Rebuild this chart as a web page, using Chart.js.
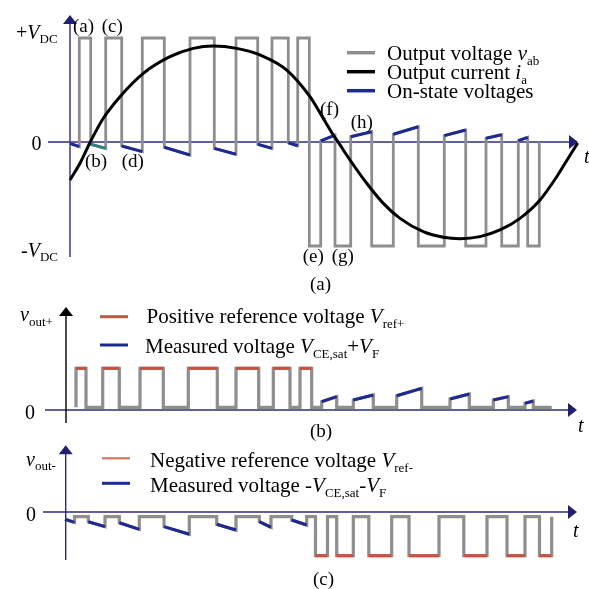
<!DOCTYPE html>
<html>
<head>
<meta charset="utf-8">
<script src="https://cdn.jsdelivr.net/npm/chart.js@4.4.0/dist/chart.umd.min.js"></script>
<style>
html, body { margin: 0; padding: 0; background: #fff; }
#wrap { width: 589px; height: 589px; }
</style>
</head>
<body>
<div id="wrap"><canvas id="pwmChart" width="589" height="589"></canvas></div>
<script>
// Data -- time in arbitrary units (0 = vertical axis of panel a)

// (a) output voltage, in units of V_DC
var highA = [[9.3,20.7],[35.7,51.7],[72.3,94.3],[120,144.3],[166,187.7],[202,218.3],[227.7,239.3]];
var lowA = [[239.3,250.7],[265,280.7],[301.7,323.3],[348.3,374.3],[395.7,416],[431.7,448.3],[457.7,469.3]];
// on-state segments: [t0, v0, t1, v1]
var onStateA = [
  [0,-0.013,9.3,-0.045], [20.7,-0.022,35.7,-0.061], [51.7,-0.038,72.3,-0.093],
  [94.3,-0.051,120,-0.125], [144.3,-0.061,166,-0.118], [187.7,-0.022,202,-0.061],
  [218.3,-0.007,227.7,-0.036],
  [250.7,0.01,265,0.067], [280.7,0.051,301.7,0.099], [323.3,0.074,348.3,0.147],
  [374.3,0.061,395.7,0.115], [416,0.036,431.7,0.07], [448.3,0.013,457.7,0.045]
];
var tealIndex = 1;
// (a) output current
var currentT = [0,10,20,33.3,50,73.3,100,123.3,143.3,166.7,190,216.7,240,250,263.3,266.7,280,296.7,313.3,330,353.3,373.3,390,410,430,450,470,486.7,496,507.7];
var currentA = [-0.365,-0.205,-0.005,0.228,0.436,0.66,0.82,0.9,0.923,0.9,0.837,0.692,0.436,0.28,0.067,0.02,-0.173,-0.397,-0.59,-0.734,-0.862,-0.916,-0.93,-0.91,-0.846,-0.734,-0.558,-0.334,-0.19,-0.01];

// (b) v_out+, in units of V_ref+
var highB = [[6,16],[32.7,49.3],[70,93.3],[118.3,147.3],[166,188.7],[203.3,220],[230,241.7]];
var onStateB = [[251.7,0.2,266.7,0.32],[283.3,0.24,303.3,0.36],[326.7,0.343,351.7,0.52],[380,0.264,399.3,0.384],[423.3,0.24,438.3,0.32],[455,0.16,463.3,0.216]];
var baseB = 0.065;
var spanB = [6, 481.7];

// (c) v_out-, in units of |V_ref-|
var lowC = [[245.5,257.5],[266.7,283.3],[298.8,321.7],[339,369],[393.8,417],[437,455],[469.5,481.7]];
var onStateC = [[-5,-0.167,4.5,-0.236],[18.3,-0.222,35,-0.336],[49.3,-0.245,69.3,-0.396],[94,-0.336,119.3,-0.51],[146.7,-0.281,166,-0.412],[189.3,-0.222,201,-0.35],[221.7,-0.183,236.7,-0.297]];
var baseC = -0.108;
var spanC = [-5, 481.7];

// tick labels (rich text parts: [text, 'n' normal | 'i' italic | 's' subscript])
var ticksA = [[['+','n'],['V','i'],['DC','s']], [['0','n']], [['-','n'],['V','i'],['DC','s']]];
var ticksB = [[['0','n']]];
var ticksC = [[['0','n']]];

var legendA = [
  [['Output voltage ','n'],['v','i'],['ab','s']],
  [['Output current ','n'],['i','i'],['a','s']],
  [['On-state voltages','n']]
];
var legendB = [
  [['Positive reference voltage ','n'],['V','i'],['ref+','s']],
  [['Measured voltage ','n'],['V','i'],['CE,sat','s'],['+','n'],['V','i'],['F','s']]
];
var legendC = [
  [['Negative reference voltage ','n'],['V','i'],['ref-','s']],
  [['Measured voltage -','n'],['V','i'],['CE,sat','s'],['-','n'],['V','i'],['F','s']]
];

// Colours
var GREY = '#8e8e8e', BLUE = '#1d2a92', TEAL = '#2f7f84', RED = '#c9523f', NAVY = '#2e2b80';

// helpers
function segsToPts(segs) {
  var out = [];
  segs.forEach(function (s, i) {
    if (i > 0) out.push({x: s[0], y: null});
    out.push({x: s[0], y: s[1]}, {x: s[2], y: s[3]});
  });
  return out;
}
function levels(list, v) {
  return list.map(function (p) { return [p[0], v, p[1], v]; });
}
function waveform(segs, base, t0, t1, startLevel) {
  segs = segs.slice().sort(function (a, b) { return a[0] - b[0]; });
  var pts = [{x: t0, y: startLevel}];
  var cur = t0;
  segs.forEach(function (s) {
    if (s[0] > cur) { pts.push({x: cur, y: base}, {x: s[0], y: base}); }
    pts.push({x: s[0], y: s[1]}, {x: s[2], y: s[3]});
    cur = s[2];
  });
  pts.push({x: cur, y: base});
  if (t1 > cur) pts.push({x: t1, y: base});
  return pts;
}
// pixel mapping for hidden y scales: value 0 at zeroPx, unitPx per unit
function yRange(zeroPx, unitPx) {
  return {min: (zeroPx - 589) / unitPx, max: zeroPx / unitPx, display: false};
}

var greyA = waveform(levels(highA, 1).concat(levels(lowA, -1), onStateA), 0, 0, 469.3, -0.013);
var blueA = segsToPts(onStateA.filter(function (s, i) { return i !== tealIndex; }));
var tealA = segsToPts([onStateA[tealIndex]]);
var curA = currentT.map(function (t, i) { return {x: t, y: currentA[i]}; });

var greyB = waveform(levels(highB, 1).concat(onStateB), baseB, spanB[0], spanB[1], baseB);
var redB = segsToPts(levels(highB, 1));
var blueB = segsToPts(onStateB);

var greyC = waveform(levels(lowC, -1).concat(onStateC), baseC, spanC[0], spanC[1], onStateC[0][1]);
var redC = segsToPts(levels(lowC, -1));
var blueC = segsToPts(onStateC);

function line(data, axis, color, width, order) {
  return {data: data, yAxisID: axis, borderColor: color, borderWidth: width, order: order,
    pointRadius: 0, tension: 0, spanGaps: false, fill: false};
}

var datasets = [
  line(greyA, 'ya', GREY, 2.8, 3),
  line(blueA, 'ya', BLUE, 3, 2),
  line(tealA, 'ya', TEAL, 3, 2),
  Object.assign(line(curA, 'ya', '#000', 3, 1), {cubicInterpolationMode: 'monotone'}),
  line(greyB, 'yb', GREY, 3.2, 3),
  line(redB, 'yb', RED, 3, 2),
  line(blueB, 'yb', BLUE, 3, 2),
  line(greyC, 'yc', GREY, 3.2, 3),
  line(redC, 'yc', RED, 3, 2),
  line(blueC, 'yc', BLUE, 3, 2)
];

var SERIF = '"Liberation Serif", "Times New Roman", serif';
function rich(ctx, x, y, parts, size) {
  var cx = x;
  parts.forEach(function (p) {
    var sub = p[1] === 's';
    var fs = sub ? Math.round(size * 0.64) : size;
    ctx.font = (p[1] === 'i' ? 'italic ' : '') + fs + 'px ' + SERIF;
    ctx.fillText(p[0], cx, sub ? y + size * 0.24 : y);
    cx += ctx.measureText(p[0]).width;
  });
}
function arrow(ctx, x, y, dir, color) {
  ctx.fillStyle = color;
  ctx.beginPath();
  if (dir === 'up') { ctx.moveTo(x, y); ctx.lineTo(x - 7, y + 9); ctx.lineTo(x + 7, y + 9); }
  else { ctx.moveTo(x, y); ctx.lineTo(x - 9, y - 7); ctx.lineTo(x - 9, y + 7); }
  ctx.closePath();
  ctx.fill();
}

// axes: [yScale, x of vertical axis (t), vertical top, vertical bottom (value), x-axis from, to (t), y-axis colour]
var axesSpec = [
  ['ya', 0, 1.22, -1.106, -22, 508, NAVY],
  ['yb', -4, 2.47, -0.31, -25, 507, '#000'],
  ['yc', -4.3, 1.53, -1.1, -27, 507, NAVY]
];

var axesPlugin = {
  id: 'axesPlugin',
  beforeDatasetsDraw: function (chart) {
    var ctx = chart.ctx, xs = chart.scales.x;
    ctx.save();
    axesSpec.forEach(function (a) {
      var ys = chart.scales[a[0]];
      var x0 = xs.getPixelForValue(a[1]);
      var top = ys.getPixelForValue(a[2]), bot = ys.getPixelForValue(a[3]);
      var y0 = ys.getPixelForValue(0);
      var xl = xs.getPixelForValue(a[4]), xr = xs.getPixelForValue(a[5]);
      ctx.lineWidth = 1.4;
      ctx.strokeStyle = NAVY;
      ctx.beginPath(); ctx.moveTo(xl, y0); ctx.lineTo(xr - 6, y0); ctx.stroke();
      arrow(ctx, xr, y0, 'right', '#221f72');
      ctx.strokeStyle = a[6];
      ctx.beginPath(); ctx.moveTo(x0, bot); ctx.lineTo(x0, top + 6); ctx.stroke();
      arrow(ctx, x0, top, 'up', a[6] === '#000' ? '#000' : '#221f72');
    });
    ctx.restore();
  },
  afterDraw: function (chart) {
    var ctx = chart.ctx;
    ctx.save();
    ctx.fillStyle = '#000';
    ctx.textBaseline = 'alphabetic';
    // tick labels
    rich(ctx, 16, 38.5, ticksA[0], 20);
    rich(ctx, 31.5, 150, ticksA[1], 20);
    rich(ctx, 21, 256.5, ticksA[2], 20);
    rich(ctx, 25, 418.5, ticksB[0], 20);
    rich(ctx, 26, 521, ticksC[0], 20);
    rich(ctx, 20, 320.7, [['v','i'],['out+','s']], 20);
    rich(ctx, 26, 465.5, [['v','i'],['out-','s']], 20);
    rich(ctx, 584, 163.3, [['t','i']], 20);
    rich(ctx, 578, 431.7, [['t','i']], 20);
    rich(ctx, 573, 536.7, [['t','i']], 20);
    // switching-state annotations
    [['(a)',73,32.4],['(c)',101.7,32.4],['(b)',85,167],['(d)',121.7,167],
     ['(f)',320,115],['(h)',350.7,128],['(e)',302.7,261.5],['(g)',331.7,261.5],
     ['(a)',310,290],['(b)',310,436.5],['(c)',313,585]].forEach(function (l) {
      rich(ctx, l[1], l[2], [[l[0],'n']], 19);
    });
    // legends
    var sw = [
      [347, 375, 52.7, GREY, 3.5, 387, 60, legendA[0]],
      [347, 375, 71.7, '#000', 3.5, 387, 79, legendA[1]],
      [347, 375, 90.7, BLUE, 3.5, 387, 98, legendA[2]],
      [100, 128, 316.7, RED, 3, 146.5, 323.3, legendB[0]],
      [100, 128, 345, BLUE, 3, 145, 352.7, legendB[1]],
      [102, 130, 458.3, '#d7735f', 2.2, 150, 466.7, legendC[0]],
      [102, 130, 483.3, BLUE, 3, 150, 491.7, legendC[1]]
    ];
    sw.forEach(function (s) {
      ctx.strokeStyle = s[3]; ctx.lineWidth = s[4];
      ctx.beginPath(); ctx.moveTo(s[0], s[2]); ctx.lineTo(s[1], s[2]); ctx.stroke();
      rich(ctx, s[5], s[6], s[7], 21);
    });
    ctx.restore();
  }
};

var chart = new Chart(document.getElementById('pwmChart').getContext('2d'), {
  type: 'line',
  data: {datasets: datasets},
  options: {
    responsive: false,
    animation: false,
    devicePixelRatio: 1,
    events: [],
    layout: {padding: 0},
    plugins: {legend: {display: false}, tooltip: {enabled: false}},
    scales: {
      x: {type: 'linear', min: -70, max: 519, display: false},
      ya: yRange(142, 104),
      yb: yRange(410, 41.7),
      yc: yRange(512, 43.7)
    }
  },
  plugins: [axesPlugin]
});
</script>
</body>
</html>
